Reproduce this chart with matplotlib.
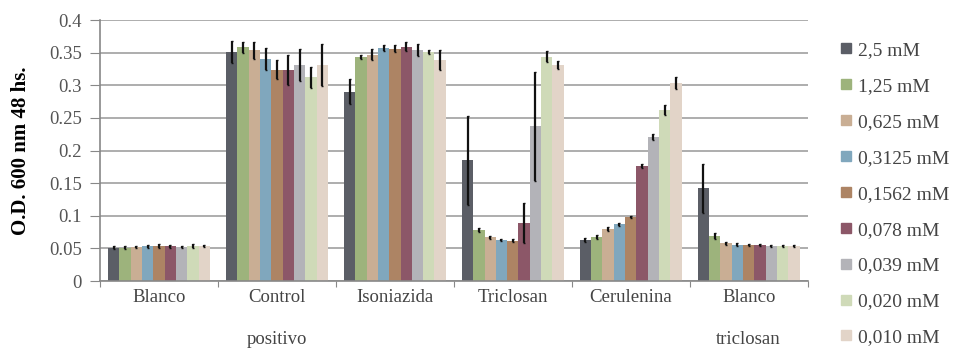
import matplotlib
matplotlib.use("Agg")
import matplotlib.pyplot as plt
import numpy as np
from matplotlib.lines import Line2D

groups = ["Blanco", "Control\npositivo", "Isoniazida", "Triclosan", "Cerulenina", "Blanco\ntriclosan"]
series = ["2,5 mM", "1,25 mM", "0,625 mM", "0,3125 mM", "0,1562 mM",
          "0,078 mM", "0,039 mM", "0,020 mM", "0,010 mM"]

# rows = concentration, columns = group
values = [
    [0.051, 0.351, 0.290, 0.185, 0.063, 0.142],   # 2,5
    [0.051, 0.358, 0.344, 0.078, 0.067, 0.069],   # 1,25
    [0.052, 0.354, 0.347, 0.067, 0.080, 0.058],   # 0,625
    [0.053, 0.340, 0.357, 0.063, 0.087, 0.056],   # 0,3125
    [0.054, 0.324, 0.356, 0.062, 0.098, 0.055],   # 0,1562
    [0.053, 0.323, 0.359, 0.089, 0.176, 0.055],   # 0,078
    [0.052, 0.331, 0.354, 0.237, 0.221, 0.054],   # 0,039
    [0.054, 0.312, 0.351, 0.344, 0.262, 0.054],   # 0,020
    [0.054, 0.331, 0.339, 0.331, 0.303, 0.054],   # 0,010
]
errors = [
    [0.002, 0.017, 0.019, 0.068, 0.003, 0.038],
    [0.002, 0.008, 0.003, 0.003, 0.003, 0.005],
    [0.002, 0.013, 0.008, 0.002, 0.003, 0.002],
    [0.003, 0.017, 0.005, 0.002, 0.002, 0.002],
    [0.003, 0.015, 0.005, 0.002, 0.002, 0.002],
    [0.002, 0.023, 0.007, 0.031, 0.003, 0.002],
    [0.002, 0.024, 0.009, 0.084, 0.005, 0.002],
    [0.003, 0.016, 0.003, 0.008, 0.008, 0.002],
    [0.002, 0.032, 0.015, 0.006, 0.009, 0.002],
]

colors = ["#5b5e66", "#9db37c", "#c9ae94", "#80a7bd", "#ad8464",
          "#8c5768", "#b3b3b8", "#cfdab8", "#e2d4c8"]

plt.rcParams['font.family'] = ['Liberation Serif', 'DejaVu Serif']

fig = plt.figure(figsize=(9.65, 3.54), dpi=100)
ax = fig.add_axes([0.1036, 0.206, 0.7334, 0.7375])

n = len(series)
w = 0.096
x = np.arange(len(groups)) + 0.5
for i in range(n):
    pos = x + (i - (n - 1) / 2) * w
    ax.bar(pos, values[i], w, color=colors[i], zorder=2)
    ax.errorbar(pos, values[i], yerr=errors[i], fmt='none', ecolor='#111111',
                elinewidth=1.6, capsize=1, capthick=1, zorder=3)

ax.set_xlim(0, len(groups))
ax.set_ylim(0, 0.4)
ax.set_yticks(np.arange(0, 0.401, 0.05))
ax.set_yticklabels(["0", "0.05", "0.1", "0.15", "0.2", "0.25", "0.3", "0.35", "0.4"],
                   fontsize=13.5, color='#555555')
ax.yaxis.grid(True, color='#a0a0a0', linewidth=1.2, zorder=0)
ax.set_axisbelow(True)

ax.set_xticks(np.arange(0, len(groups) + 1))
ax.set_xticklabels([])
ax.set_xticks(x, minor=True)
ax.set_xticklabels(groups, minor=True, fontsize=13.5, color='#444444', linespacing=2.9, va='top')
ax.tick_params(axis='x', which='minor', length=0, pad=6)
ax.tick_params(axis='x', which='major', length=4, color='#888888')
ax.tick_params(axis='y', length=7, color='#888888', pad=6)

for s in ['top', 'right']:
    ax.spines[s].set_visible(False)
for s in ['left', 'bottom']:
    ax.spines[s].set_color('#888888')
    ax.spines[s].set_linewidth(1.2)

ax.set_ylabel("O.D. 600 nm 48 hs.", fontsize=15, fontweight='bold')
ax.yaxis.set_label_coords(-0.097, 0.5)

handles = [Line2D([0], [0], marker='s', linestyle='none', markersize=7,
                  markerfacecolor=c, markeredgecolor=c) for c in colors]
fig.legend(handles, series, loc='upper left', bbox_to_anchor=(0.862, 0.91),
           frameon=False, fontsize=14, labelspacing=0.94, handlelength=0.5,
           handletextpad=0.35, borderpad=0, labelcolor='#444444')

fig.savefig("out.png", dpi=100)
